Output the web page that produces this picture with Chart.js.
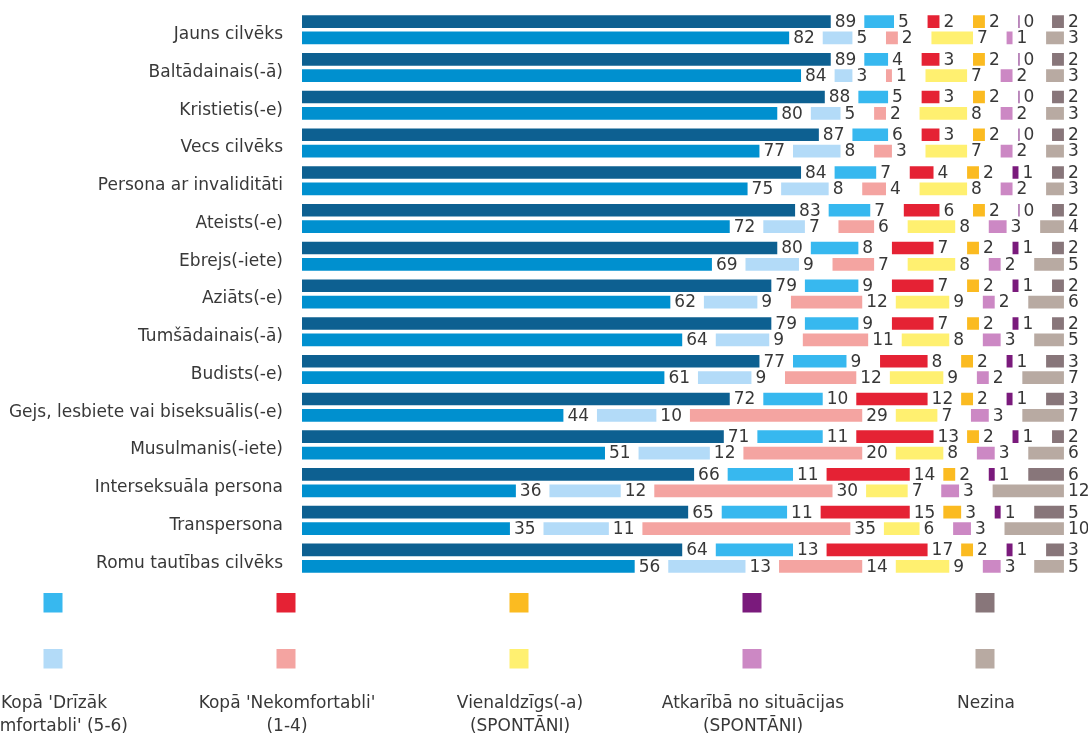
<!DOCTYPE html>
<html>
<head>
<meta charset="utf-8">
<title>Komforta līmenis</title>
<script src="https://cdn.jsdelivr.net/npm/chart.js@4.4.1/dist/chart.umd.min.js"></script>
<style>
    html, body { margin: 0; padding: 0; background: #fff; }
    #wrap { position: relative; width: 1088px; height: 738px; }
</style>
</head>
<body>
<div id="wrap"><canvas id="chart"></canvas></div>
<script>
// categories (y axis)
const categories = [
    "Jauns cilvēks", "Baltādainais(-ā)", "Kristietis(-e)", "Vecs cilvēks",
    "Persona ar invaliditāti", "Ateists(-e)", "Ebrejs(-iete)", "Aziāts(-e)",
    "Tumšādainais(-ā)", "Budists(-e)", "Gejs, lesbiete vai biseksuālis(-e)",
    "Musulmanis(-iete)", "Interseksuāla persona", "Transpersona", "Romu tautības cilvēks"
];

const seriesNames = [
    "Kopā 'Komfortabli' (7-10)",
    "Kopā 'Drīzāk komfortabli' (5-6)",
    "Kopā 'Nekomfortabli' (1-4)",
    "Vienaldzīgs(-a) (SPONTĀNI)",
    "Atkarībā no situācijas (SPONTĀNI)",
    "Nezina"
];

// legend text (first series has no legend entry in the picture)
const legendLabels = [
    ["Kopā 'Drīzāk", "komfortabli' (5-6)"],
    ["Kopā 'Nekomfortabli'", "(1-4)"],
    ["Vienaldzīgs(-a)", "(SPONTĀNI)"],
    ["Atkarībā no situācijas", "(SPONTĀNI)"],
    ["Nezina"]
];

// upper bar of each pair
const comfortTop = [89, 89, 88, 87, 84, 83, 80, 79, 79, 77, 72, 71, 66, 65, 64];
const ratherTop  = [5, 4, 5, 6, 7, 7, 8, 9, 9, 9, 10, 11, 11, 11, 13];
const uncomfTop  = [2, 3, 3, 3, 4, 6, 7, 7, 7, 8, 12, 13, 14, 15, 17];
const indiffTop  = [2, 2, 2, 2, 2, 2, 2, 2, 2, 2, 2, 2, 2, 3, 2];
const dependsTop = [0, 0, 0, 0, 1, 0, 1, 1, 1, 1, 1, 1, 1, 1, 1];
const dkTop      = [2, 2, 2, 2, 2, 2, 2, 2, 2, 3, 3, 2, 6, 5, 3];

// lower bar of each pair
const comfortBot = [82, 84, 80, 77, 75, 72, 69, 62, 64, 61, 44, 51, 36, 35, 56];
const ratherBot  = [5, 3, 5, 8, 8, 7, 9, 9, 9, 9, 10, 12, 12, 11, 13];
const uncomfBot  = [2, 1, 2, 3, 4, 6, 7, 12, 11, 12, 29, 20, 30, 35, 14];
const indiffBot  = [7, 7, 8, 7, 8, 8, 8, 9, 8, 9, 7, 8, 7, 6, 9];
const dependsBot = [1, 2, 2, 2, 2, 3, 2, 2, 3, 2, 3, 3, 3, 3, 3];
const dkBot      = [3, 3, 3, 3, 3, 4, 5, 6, 5, 7, 7, 6, 12, 10, 5];

const colorsTop = ["#0d6091", "#37b8ef", "#e52234", "#fbbb21", "#7a1a7c", "#88767a"];
const colorsBot = ["#0090cf", "#b3dbf8", "#f4a4a1", "#fff070", "#cc88c4", "#b8aaa2"];

// room left after each segment for its value label (in axis units)
const GAP = 5.65;
const X_MAX = 128.6;

const FONT = "'DejaVu Sans', sans-serif";
const TEXT = "#383838";

// turn the series of one row into floating bars [start, end]
function spans(list) {
    return list.map((vals, s) => vals.map((v, i) => {
        let start = 0;
        for (let k = 0; k < s; k++) start += list[k][i] + GAP;
        return [start, start + v];
    }));
}

function buildDatasets(list, colors, stack) {
    const bars = spans(list);
    return list.map((vals, s) => ({
        label: seriesNames[s],
        data: bars[s],
        values: vals,
        backgroundColor: colors[s],
        borderWidth: 0,
        minBarLength: 1,
        stack: stack,
        categoryPercentage: 0.864,
        barPercentage: 0.78
    }));
}

const topSeries = [comfortTop, ratherTop, uncomfTop, indiffTop, dependsTop, dkTop];
const botSeries = [comfortBot, ratherBot, uncomfBot, indiffBot, dependsBot, dkBot];

const datasets = buildDatasets(topSeries, colorsTop, "top")
    .concat(buildDatasets(botSeries, colorsBot, "bot"));

// value printed just after each bar
const valueLabels = {
    id: "valueLabels",
    afterDatasetsDraw(chart) {
        const ctx = chart.ctx;
        ctx.save();
        ctx.font = "17px " + FONT;
        ctx.fillStyle = TEXT;
        ctx.textAlign = "left";
        ctx.textBaseline = "middle";
        chart.data.datasets.forEach((ds, di) => {
            chart.getDatasetMeta(di).data.forEach((bar, i) => {
                ctx.fillText(String(ds.values[i]), bar.x + 4, bar.y + 1);
            });
        });
        ctx.restore();
    }
};

// legend below the plot: two swatch rows, one caption per column
const swatchLegend = {
    id: "swatchLegend",
    afterDraw(chart) {
        const ctx = chart.ctx;
        const centers = [53, 286, 519, 752, 985];
        ctx.save();
        centers.forEach((cx, c) => {
            ctx.fillStyle = colorsTop[c + 1];
            ctx.fillRect(cx - 9.5, 593, 19, 19.5);
            ctx.fillStyle = colorsBot[c + 1];
            ctx.fillRect(cx - 9.5, 649, 19, 19.5);
            ctx.font = "17px " + FONT;
            ctx.fillStyle = TEXT;
            ctx.textAlign = "center";
            ctx.textBaseline = "middle";
            legendLabels[c].forEach((line, l) => {
                ctx.fillText(line, cx + 1, 704 + l * 23);
            });
        });
        ctx.restore();
    }
};

new Chart(document.getElementById("chart"), {
    type: "bar",
    data: { labels: categories, datasets: datasets },
    options: {
        indexAxis: "y",
        responsive: true,
        maintainAspectRatio: false,
        animation: false,
        layout: { padding: { top: 10.8, bottom: 161, right: 22, left: 0 } },
        plugins: {
            legend: { display: false },
            tooltip: { enabled: false }
        },
        scales: {
            x: {
                stacked: false,
                min: 0,
                max: X_MAX,
                display: false
            },
            y: {
                grid: { display: false, drawTicks: false },
                border: { display: false },
                ticks: {
                    color: TEXT,
                    font: { family: FONT, size: 17 },
                    padding: 19,
                    labelOffset: 5,
                    autoSkip: false
                },
                afterFit(scale) {
                    scale.width = 302;
                    scale.paddingTop = 0;
                    scale.paddingBottom = 0;
                }
            }
        }
    },
    plugins: [valueLabels, swatchLegend]
});
</script>
</body>
</html>
